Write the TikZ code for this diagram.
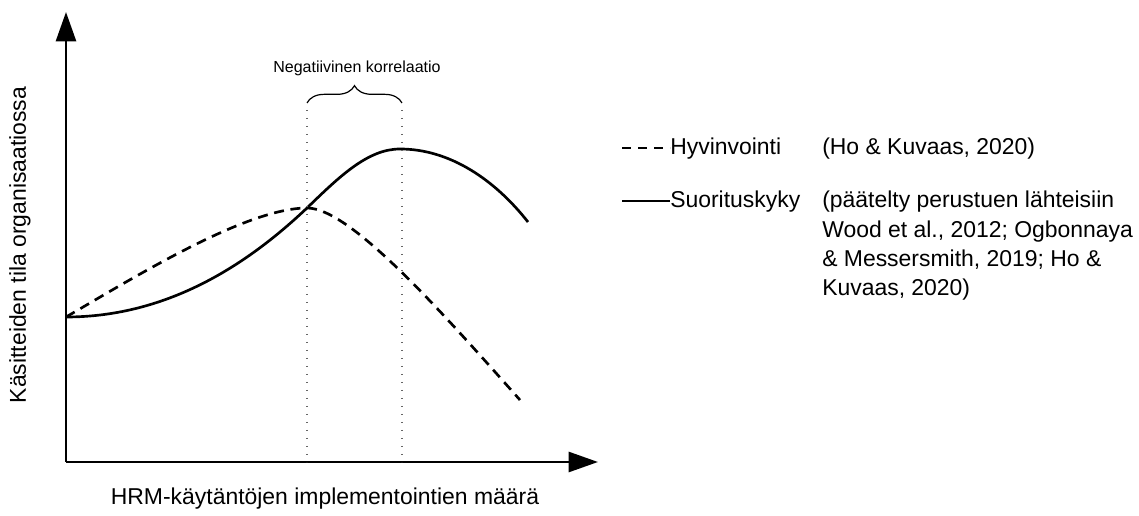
\documentclass[tikz,border=0pt]{standalone}
\usepackage{fontspec}
\setmainfont{Liberation Sans}
\usetikzlibrary{arrows.meta,decorations.pathreplacing}

\tikzset{
  axis/.style={line width=2pt, -{Triangle[length=22pt, width=15pt]}},
  curve/.style={line width=2pt},
  guide/.style={line width=1pt, gray!80!black, dash pattern=on 1pt off 5pt},
  lbl/.style={font=\fontsize{17.2}{22}\selectfont, inner sep=0pt}
}

\begin{document}
\begin{tikzpicture}[x=0.75pt, y=-0.75pt]
    \useasboundingbox (0,0) rectangle (1139,516);

    % axes
    \coordinate (o) at (66,462);
    \coordinate (ytip) at (66,12);
    \coordinate (xtip) at (598,462);
    \draw[axis] (o) -- (ytip);
    \draw[axis] (o) -- (xtip);

    \node[lbl, rotate=90] (ylab) at (20,245) {Käsitteiden tila organisaatiossa};
    \node[lbl] (xlab) at (325,499) {HRM-käytäntöjen implementointien määrä};

    % curves
    \coordinate (start) at (66,317);
    \coordinate (hpeak) at (307,208);
    \coordinate (hend) at (520,400);
    \coordinate (speak) at (400,149);
    \coordinate (send) at (528,222);
    \draw[curve, dash pattern=on 7.5pt off 5pt] (start) .. controls (130,280) and (245,208) .. (hpeak)
          .. controls (350,208) and (440,310) .. (hend);
    \draw[curve] (start) .. controls (170,317) and (250,262) .. (hpeak)
          .. controls (340,176) and (368,149) .. (speak)
          .. controls (450,149) and (495,180) .. (send);

    % correlation range
    \coordinate (d1top) at (307,110);
    \coordinate (d2top) at (402,110);
    \coordinate (d1) at (307,462);
    \coordinate (d2) at (402,462);
    \draw[guide] (d1top) -- (d1);
    \draw[guide] (d2top) -- (d2);
    \draw[line width=0.9pt, decorate, decoration={brace, amplitude=13pt}] (307,103) -- (402,103);
    \node[font=\fontsize{12}{14}\selectfont] (neg) at (357,68) {Negatiivinen korrelaatio};

    % legend
    \coordinate (hleg) at (622,148);
    \coordinate (sleg) at (622,201);
    \node[lbl, anchor=base west] (hyv) at (670,155) {Hyvinvointi};
    \node[lbl, anchor=base west] (suo) at (670,208) {Suorituskyky};
    \draw[line width=2pt, dash pattern=on 7pt off 5pt] (hleg) -- (hyv.west |- hleg);
    \draw[line width=2pt] (sleg) -- (suo.west |- sleg);
    \node[lbl, anchor=base west] (href) at (822,155) {(Ho \& Kuvaas, 2020)};
    \node[lbl, anchor=north west, align=left] (sref) at (822,191)
        {(päätelty perustuen lähteisiin\\Wood et al., 2012; Ogbonnaya\\\& Messersmith, 2019; Ho \&\\Kuvaas, 2020)};
\end{tikzpicture}
\end{document}
